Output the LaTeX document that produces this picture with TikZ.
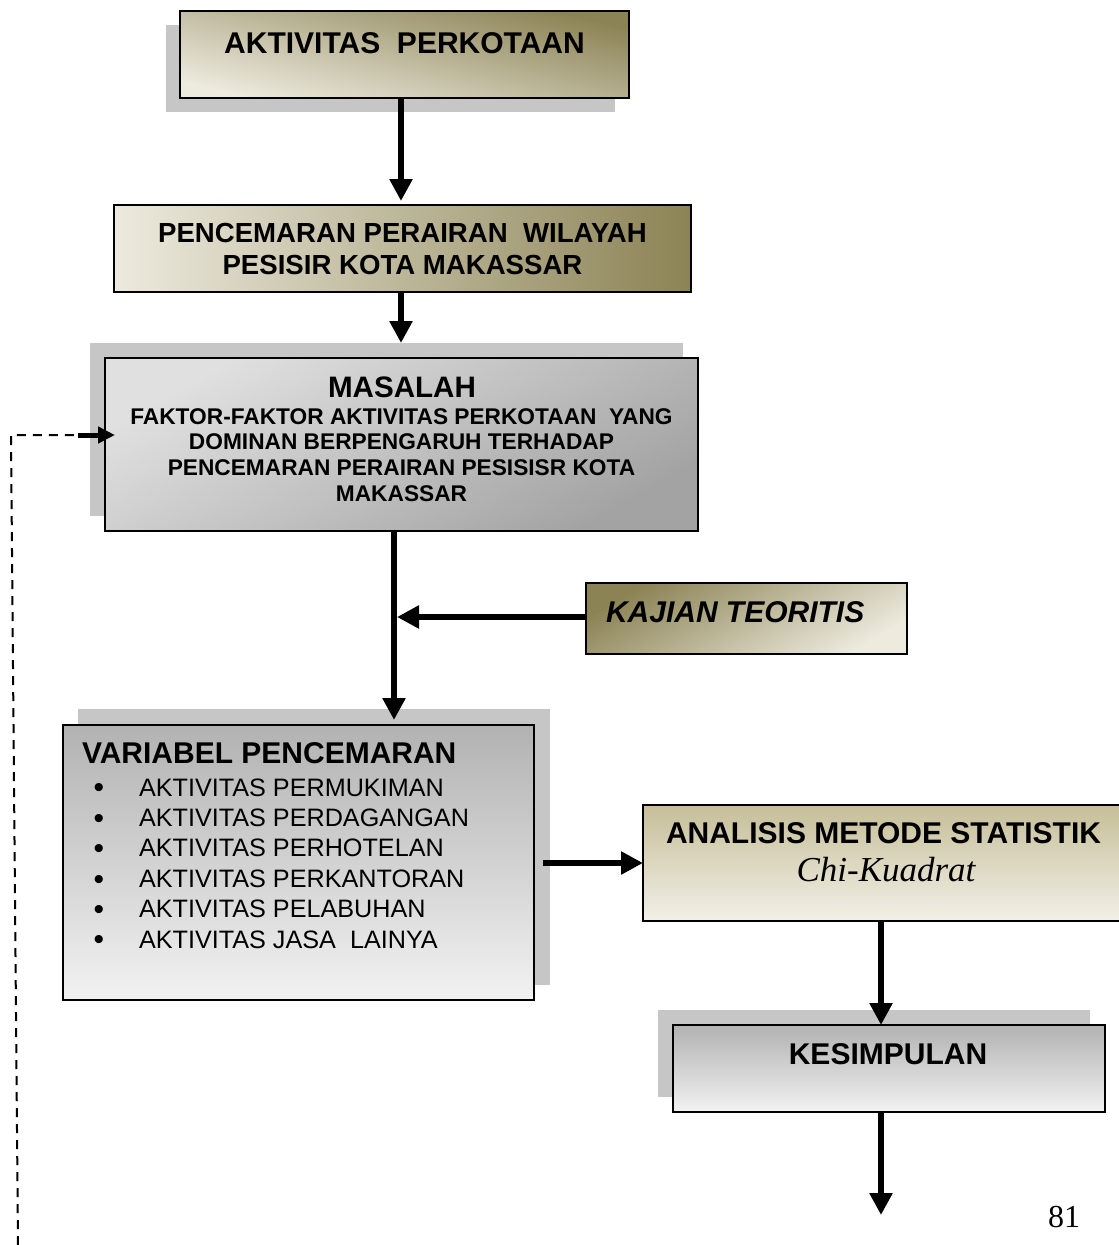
\documentclass[tikz,border=0pt]{standalone}
\usepackage{fontspec}
\setmainfont{Liberation Sans}
\newfontfamily\serifx{Liberation Serif}
\usetikzlibrary{arrows.meta,calc}
\definecolor{olv}{RGB}{140,131,85}
\definecolor{tanc}{RGB}{200,194,166}
\definecolor{lgt}{RGB}{237,234,222}
\definecolor{shd}{RGB}{198,198,198}
\definecolor{gtop}{RGB}{178,178,178}
\definecolor{gbot}{RGB}{242,242,242}
\definecolor{atop}{RGB}{198,190,152}
\definecolor{abot}{RGB}{242,240,232}
\tikzset{
  boxs/.style={draw=black, line width=1.6pt, inner sep=0pt, outer sep=0pt},
  shadowbox/.style={fill=shd, draw=none, inner sep=0pt, outer sep=0pt},
  arr/.style={line width=6.5pt, -{Triangle[length=22pt,width=22pt]}},
  txt/.style={inner sep=0pt, outer sep=0pt, anchor=base},
  dashln/.style={line width=2pt, dash pattern=on 9pt off 7pt},
}
\begin{document}
\begin{tikzpicture}[x=1pt,y=-1pt]
\useasboundingbox (0,0) rectangle (1119,1245);
% shadows
\node[shadowbox, minimum width=449pt, minimum height=87pt] (s1) at (390.5,68.5) {};
\node[shadowbox, minimum width=593pt, minimum height=173pt] (s3) at (386.5,429.5) {};
\node[shadowbox, minimum width=472pt, minimum height=276pt] (s5) at (314,847) {};
\node[shadowbox, minimum width=432pt, minimum height=87pt] (s7) at (874,1053.5) {};
% boxes
\node[boxs, minimum width=449pt, minimum height=87pt, top color=olv, bottom color=lgt, shading angle=-14] (b1) at (404.5,54.5) {};
\node[boxs, minimum width=577pt, minimum height=87pt, left color=lgt, right color=olv] (b2) at (402.5,248.5) {};
\node[boxs, minimum width=593pt, minimum height=173pt, top color=black!12, bottom color=black!36, shading angle=30] (b3) at (401.5,444.5) {};
\node[boxs, minimum width=321pt, minimum height=71pt, top color=olv, bottom color=lgt, shading angle=30] (b4) at (746.5,618.5) {};
\node[boxs, minimum width=471pt, minimum height=275pt, top color=gtop, bottom color=gbot] (b5) at (298.5,862.5) {};
\node[boxs, minimum width=487pt, minimum height=116pt, top color=atop, bottom color=abot] (b6) at (886.5,863) {};
\node[boxs, minimum width=432pt, minimum height=87pt, top color=gtop, bottom color=gbot] (b7) at (889,1068.5) {};
% texts
\node[txt] (t1) at (404.5,53) {\bfseries\fontsize{30}{36}\selectfont AKTIVITAS\ \ PERKOTAAN};
\node[txt] (t2a) at (402.5,242) {\bfseries\fontsize{27.6}{32}\selectfont PENCEMARAN PERAIRAN\ \ WILAYAH};
\node[txt] (t2b) at (402.5,274) {\bfseries\fontsize{27.6}{32}\selectfont PESISIR KOTA MAKASSAR};
\node[txt] (t3) at (402,397) {\bfseries\fontsize{29.6}{34}\selectfont MASALAH};
\node[txt] (t3a) at (401.5,424) {\bfseries\fontsize{22.7}{26}\selectfont FAKTOR-FAKTOR AKTIVITAS PERKOTAAN\ \ YANG};
\node[txt] (t3b) at (401.5,449.7) {\bfseries\fontsize{22.7}{26}\selectfont DOMINAN BERPENGARUH TERHADAP};
\node[txt] (t3c) at (401.5,475.4) {\bfseries\fontsize{22.7}{26}\selectfont PENCEMARAN PERAIRAN PESISISR KOTA};
\node[txt] (t3d) at (401.5,501) {\bfseries\fontsize{22.7}{26}\selectfont MAKASSAR};
\node[txt, anchor=base west] (t4) at (606,622) {\bfseries\itshape\fontsize{30}{36}\selectfont KAJIAN TEORITIS};
\node[txt, anchor=base west] (t5) at (82,763) {\bfseries\fontsize{30}{36}\selectfont VARIABEL PENCEMARAN};
\foreach \lab [count=\i from 0] in {AKTIVITAS PERMUKIMAN, AKTIVITAS PERDAGANGAN, AKTIVITAS PERHOTELAN, AKTIVITAS PERKANTORAN, AKTIVITAS PELABUHAN, AKTIVITAS JASA\ \ LAINYA}{
  \node[txt, anchor=base west] (it\i) at (93.7,796+30.4*\i) {\makebox[45.3pt][l]{\raisebox{-1.8pt}{\fontsize{30}{30}\selectfont •}}\fontsize{25.2}{30}\selectfont \lab};
}
\node[txt] (t6) at (883.5,843.3) {\bfseries\fontsize{30}{36}\selectfont ANALISIS METODE STATISTIK};
\node[txt] (t6b) at (886,881.7) {\serifx\itshape\fontsize{35}{40}\selectfont Chi-Kuadrat};
\node[txt] (t7) at (888,1064) {\bfseries\fontsize{30}{36}\selectfont KESIMPULAN};
\node[txt, anchor=base west] (pg) at (1048,1227) {\serifx\fontsize{32}{38}\selectfont 81};
% connectors
\coordinate (c1) at (401,0);
\coordinate (j) at (394,617);
\coordinate (c2) at (881,0);
\coordinate (endpt) at (881,1215);
\draw[arr] (b1.south -| c1) -- ($(b2.north -| c1)+(0,-4)$);
\draw[arr] (b2.south -| c1) -- (s3.north -| c1);
\draw[arr] (b3.south -| j) -- ($(b5.north -| j)+(0,-5)$);
\draw[arr] (b4.west |- j) -- ($(j)+(3,0)$);
\draw[arr] ($(b5.east |- b6.west)+(9,0)$) -- (b6.west);
\draw[arr] (b6.south -| c2) -- (b7.north -| c2);
\draw[arr] (b7.south -| c2) -- (endpt);
% dashed feedback
\coordinate (d0) at (18,1245);
\coordinate (d1) at (11,435);
\coordinate (d2) at (78,435);
\draw[dashln] (d0) -- (d1) -- (d2);
\draw[line width=5pt, -{Triangle[length=17pt,width=16pt]}] (d2) -- ($(b3.west |- d2)+(10,0)$);
\end{tikzpicture}
\end{document}
